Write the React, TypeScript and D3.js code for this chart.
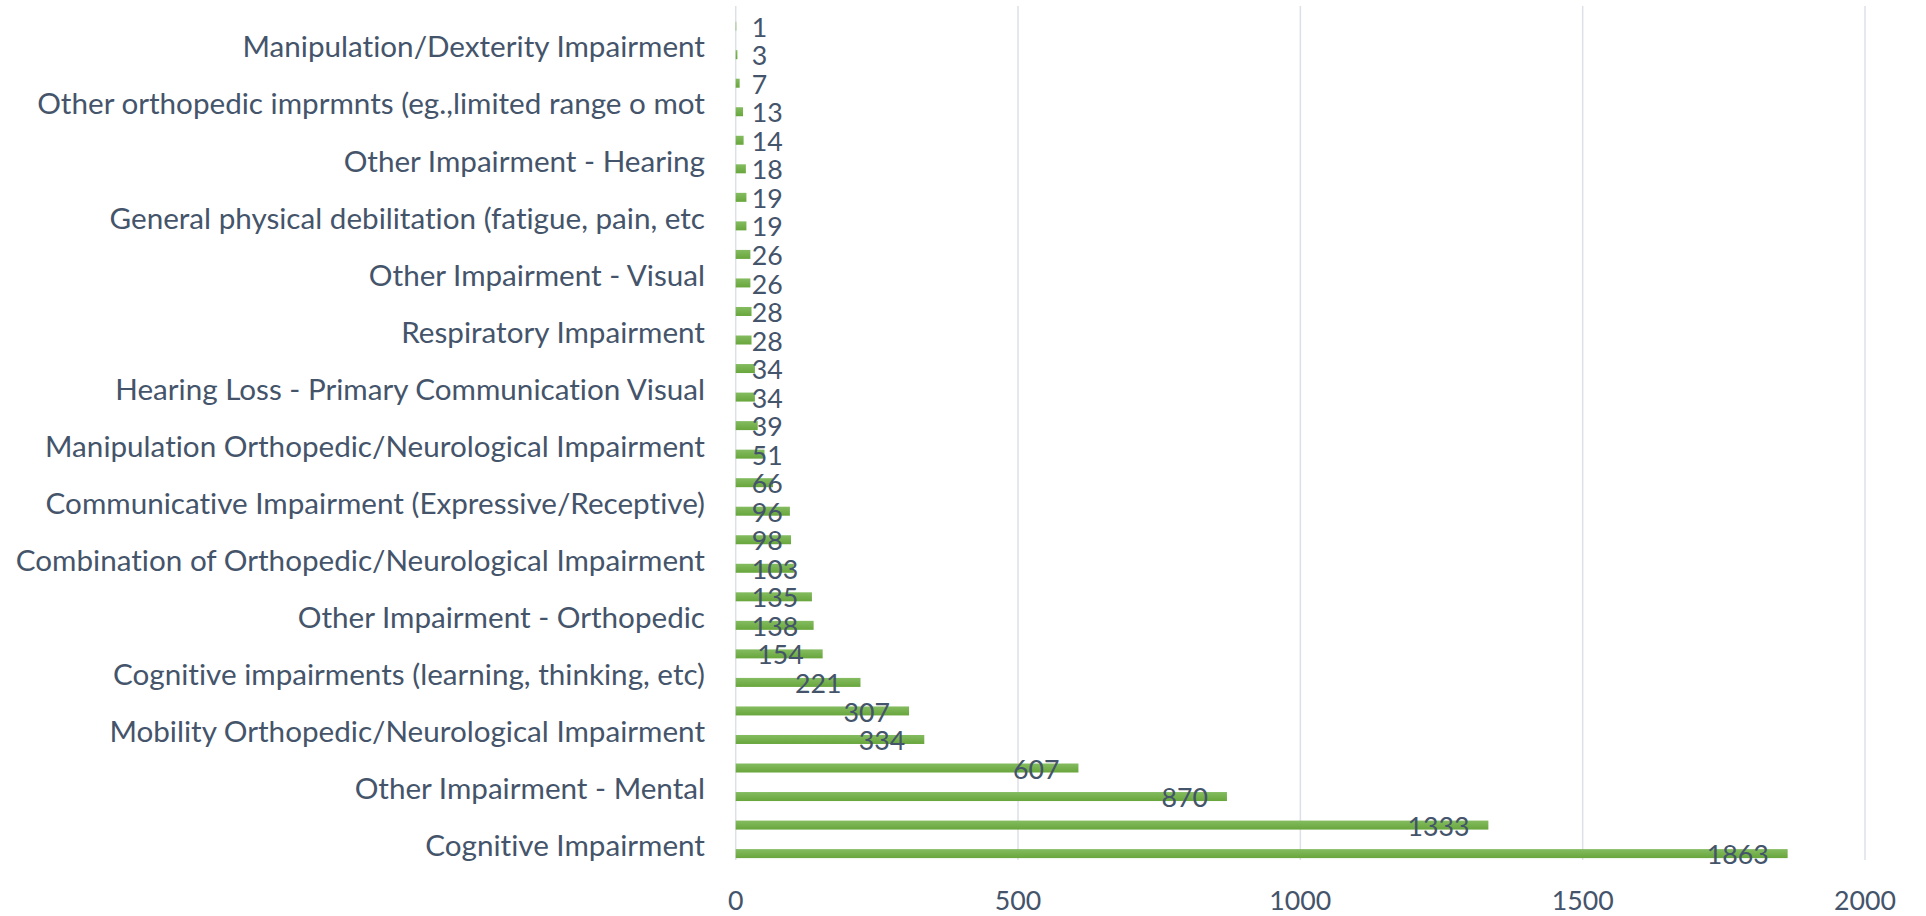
import React from 'react';
import { scaleBand, scaleLinear } from 'd3';

const width = 1926;
const height = 916;

// categories from top to bottom; only every second one carries a visible axis label
const shownLabels = [
  'Manipulation/Dexterity Impairment',
  'Other orthopedic imprmnts (eg.,limited range o mot',
  'Other Impairment - Hearing',
  'General physical debilitation (fatigue, pain, etc',
  'Other Impairment - Visual',
  'Respiratory Impairment',
  'Hearing Loss - Primary Communication Visual',
  'Manipulation Orthopedic/Neurological Impairment',
  'Communicative Impairment (Expressive/Receptive)',
  'Combination of Orthopedic/Neurological Impairment',
  'Other Impairment - Orthopedic',
  'Cognitive impairments (learning, thinking, etc)',
  'Mobility Orthopedic/Neurological Impairment',
  'Other Impairment - Mental',
  'Cognitive Impairment',
];

const values = [
  1, 3, 7, 13, 14, 18, 19, 19, 26, 26, 28, 28, 34, 34, 39, 51, 66, 96, 98, 103,
  135, 138, 154, 221, 307, 334, 607, 870, 1333, 1863,
];

const xTicks = [0, 500, 1000, 1500, 2000];

const plot = { left: 735.7, right: 1865, top: 4, bottom: 860 };
const labelRight = 705;
const font = 'Lato';
const textColor = '#44546A';
const textStyle = { fontVariantLigatures: 'none' as const, fontFeatureSettings: '"liga" 0, "clig" 0' };

// fit the font size to the label widths of the original
const measure = (txt: string, size: number) => {
  const ctx = document.createElement('canvas').getContext('2d');
  if (!ctx) return txt.length * size * 0.5;
  ctx.font = `${size}px ${font}`;
  return ctx.measureText(txt).width;
};

const App = () => {
  const catSize = (30 * 464) / measure('Manipulation/Dexterity Impairment', 30);
  const numSize = (30 * 62) / measure('2000', 30);
  const catCap = catSize * 0.7165;
  const numCap = numSize * 0.7165;

  const xScale = scaleLinear().domain([0, 2000]).range([plot.left, plot.right]);
  const yScale = scaleBand<number>()
    .domain(values.map((_, i) => i))
    .range([plot.top, plot.bottom]);
  const bw = yScale.bandwidth();
  const barH = 9;
  const barCenter = (i: number) => (yScale(i) as number) + bw * 0.776;

  return (
    <div style={{ position: 'absolute', left: 0, top: 0 }}>
      <svg width={width} height={height} style={{ display: 'block', background: '#fff' }}>
        <defs>
          <linearGradient id="barFill" x1="0" y1="0" x2="0" y2="1">
            <stop offset="0%" stopColor="#84BC60" />
            <stop offset="100%" stopColor="#68A63C" />
          </linearGradient>
        </defs>

        {/* gridlines */}
        {xTicks.map(t => (
          <line
            key={t}
            x1={xScale(t)}
            x2={xScale(t)}
            y1={plot.top + 2}
            y2={plot.bottom}
            stroke="#DCE1E8"
            strokeWidth={1.5}
          />
        ))}

        {/* bars */}
        {values.map((v, i) => (
          <rect
            key={i}
            x={xScale(0)}
            y={barCenter(i) - barH / 2}
            width={xScale(v) - xScale(0)}
            height={barH}
            fill="url(#barFill)"
          />
        ))}

        {/* data labels, inside end */}
        {values.map((v, i) => {
          const w = measure(String(v), numSize);
          const x = Math.max(xScale(v) - 19 - w, plot.left + 16);
          return (
            <text
              key={i}
              x={x}
              y={barCenter(i) + 1 + numCap / 2}
              fontFamily={font}
              fontSize={numSize}
              fill={textColor}
              style={textStyle}
            >
              {v}
            </text>
          );
        })}

        {/* category labels */}
        {values.map((_, i) =>
          i % 2 === 1 ? (
            <text
              key={i}
              x={labelRight}
              y={(yScale(i) as number) + bw / 2 + catCap / 2}
              textAnchor="end"
              fontFamily={font}
              fontSize={catSize}
              fill={textColor}
              style={textStyle}
            >
              {shownLabels[(i - 1) / 2]}
            </text>
          ) : null
        )}

        {/* x tick labels */}
        {xTicks.map(t => (
          <text
            key={t}
            x={xScale(t)}
            y={900 + numCap / 2}
            textAnchor="middle"
            fontFamily={font}
            fontSize={numSize}
            fill={textColor}
            style={textStyle}
          >
            {t}
          </text>
        ))}
      </svg>
    </div>
  );
};

export default App;
